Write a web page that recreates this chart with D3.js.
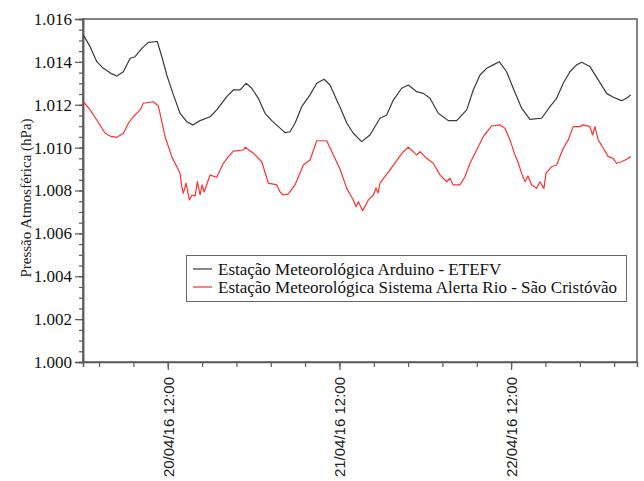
<!DOCTYPE html>
<html><head><meta charset="utf-8">
<script src="https://cdn.jsdelivr.net/npm/d3@7"></script>
<style>body{margin:0;background:#fff}svg{display:block}</style>
</head><body><svg id="c" width="644" height="481"></svg>
<script>
// hours since 20/04/16 00:00
const arduinoHours = [0.21,1.15,2.08,3.00,4.18,4.88,5.80,6.74,7.43,8.37,9.29,10.23,10.55,11.17,11.86,12.79,13.72,14.66,15.50,16.52,17.92,18.85,20.25,21.17,22.11,22.95,23.74,24.66,25.60,26.54,27.46,28.40,29.09,29.79,30.73,31.89,32.83,33.85,34.68,35.62,36.08,37.02,37.94,39.11,40.27,41.67,42.61,43.53,44.70,45.63,46.80,47.72,48.66,49.82,51.22,52.39,53.79,54.71,55.65,56.58,57.50,58.34,59.37,60.30,61.47,62.63,64.27,65.43,66.36,67.29,68.22,69.16,69.86,71.02,72.18,73.35,74.27,75.45,76.15,76.71];
const arduinoValues = [1.01525,1.01471,1.01401,1.01370,1.01344,1.01334,1.01354,1.01417,1.01424,1.01463,1.01491,1.01494,1.01494,1.01424,1.01339,1.01246,1.01160,1.01121,1.01106,1.01126,1.01144,1.01176,1.01238,1.01269,1.01269,1.01300,1.01277,1.01230,1.01160,1.01126,1.01098,1.01070,1.01074,1.01114,1.01191,1.01246,1.01300,1.01319,1.01292,1.01222,1.01190,1.01115,1.01067,1.01028,1.01059,1.01137,1.01152,1.01222,1.01277,1.01292,1.01261,1.01253,1.01230,1.01160,1.01126,1.01126,1.01176,1.01269,1.01339,1.01370,1.01386,1.01401,1.01354,1.01277,1.01184,1.01132,1.01137,1.01191,1.01230,1.01300,1.01354,1.01386,1.01398,1.01378,1.01316,1.01253,1.01235,1.01219,1.01230,1.01246];
const alertaHours = [0.21,1.15,2.08,3.24,3.94,4.88,5.80,6.50,7.20,8.13,8.59,9.99,10.69,11.63,12.56,13.26,13.72,13.96,14.18,14.56,15.02,15.40,15.82,16.14,16.52,16.80,17.08,17.92,18.85,19.77,20.43,21.17,22.57,22.81,23.97,25.14,26.06,27.24,27.70,28.16,28.86,29.79,30.95,31.89,32.83,34.22,35.15,36.08,37.02,37.94,38.32,38.64,39.25,40.04,40.74,41.11,41.39,41.67,43.07,44.23,44.93,45.63,46.80,47.26,48.20,49.12,50.06,50.99,51.45,51.91,52.85,53.55,54.25,55.18,56.11,57.28,58.44,59.14,59.84,60.54,60.96,61.47,61.94,62.36,62.87,63.57,64.03,64.59,64.87,65.66,66.36,67.29,67.99,68.68,69.62,70.08,71.02,71.39,71.71,72.18,72.88,73.58,74.27,74.75,75.45,76.15,76.71];
const alertaValues = [1.01214,1.01176,1.01129,1.01067,1.01054,1.01048,1.01067,1.01114,1.01144,1.01176,1.01207,1.01214,1.01194,1.01051,1.00958,1.00911,1.00880,1.00818,1.00787,1.00834,1.00756,1.00779,1.00774,1.00841,1.00779,1.00826,1.00793,1.00872,1.00862,1.00927,1.00956,1.00984,1.00989,1.01002,1.00974,1.00934,1.00834,1.00826,1.00793,1.00779,1.00784,1.00826,1.00919,1.00942,1.01032,1.01032,1.00966,1.00900,1.00810,1.00756,1.00724,1.00748,1.00706,1.00756,1.00779,1.00812,1.00788,1.00834,1.00896,1.00950,1.00981,1.01002,1.00966,1.00981,1.00950,1.00927,1.00872,1.00841,1.00857,1.00826,1.00826,1.00864,1.00927,1.00989,1.01051,1.01101,1.01106,1.01090,1.01036,1.00966,1.00933,1.00880,1.00841,1.00868,1.00826,1.00810,1.00841,1.00810,1.00880,1.00911,1.00919,1.00997,1.01036,1.01098,1.01098,1.01106,1.01098,1.01059,1.01098,1.01036,1.00997,1.00958,1.00950,1.00927,1.00934,1.00946,1.00958];
const yTicks = [1.000,1.002,1.004,1.006,1.008,1.010,1.012,1.014,1.016];
const xTickHours = [2.4,7.2,12,16.8,21.6,26.4,31.2,36,40.8,45.6,50.4,55.2,60,64.8,69.6,74.4];
const xLabelHours = [12,36,60];
const seriesNames = ["Estação Meteorológica Arduino - ETEFV","Estação Meteorológica Sistema Alerta Rio - São Cristóvão"];
const seriesColors = ["#3a3a3a","#ff3030"];
const yTitle = "Pressão Atmosférica (hPa)";

const base = new Date(2016,3,20,0,0);
const T = h => new Date(base.getTime() + h*3600000);
const L = 83, R = 637, TOP = 19, B = 362;
const svg = d3.select("#c");
const x = d3.scaleTime().domain([T(0.15), T(77.6)]).range([L, R]);
const y = d3.scaleLinear().domain([1.000, 1.016]).range([B, TOP]);

// frame
svg.append("rect").attr("x",L).attr("y",TOP).attr("width",R-L).attr("height",B-TOP)
  .attr("fill","none").attr("stroke","#5a5a5a").attr("stroke-width",1.5);

// y axis
const minorY = d3.range(0,33).map(i=>1+i*0.0005);
const gyMinor = svg.append("g").attr("transform",`translate(${L},0)`)
  .call(d3.axisLeft(y).tickValues(minorY).tickSize(4).tickFormat(""));
const gy = svg.append("g").attr("transform",`translate(${L},0)`)
  .call(d3.axisLeft(y).tickValues(yTicks).tickSize(8).tickPadding(3).tickFormat(d3.format(".3f")));
[gy,gyMinor].forEach(g=>{g.select(".domain").attr("stroke","#5a5a5a").attr("stroke-width",1.5);
  g.selectAll(".tick line").attr("stroke","#5a5a5a").attr("stroke-width",1.2);});
gy.selectAll(".tick text").attr("font-family","'Liberation Serif',serif").attr("font-size",17).attr("fill","#111");

// x axis
const gx = svg.append("g").attr("transform",`translate(0,${B})`)
  .call(d3.axisBottom(x).tickValues(xTickHours.map(T)).tickSize(5).tickFormat(""));
gx.select(".domain").attr("stroke","#5a5a5a").attr("stroke-width",1.5);
gx.selectAll(".tick line").attr("stroke","#5a5a5a").attr("stroke-width",1.2);
const fmt = d3.timeFormat("%d/%m/%y %H:%M");
const gxl = svg.append("g").attr("transform",`translate(0,${B})`)
  .call(d3.axisBottom(x).tickValues(xLabelHours.map(T)).tickSize(8).tickFormat(fmt));
gxl.select(".domain").remove();
gxl.selectAll(".tick line").attr("stroke","#5a5a5a").attr("stroke-width",1.2);
gxl.selectAll(".tick text").attr("font-family","'Liberation Sans',sans-serif").attr("font-size",15).attr("fill","#222")
  .attr("transform","rotate(-90)").attr("text-anchor","end").attr("dy","0.35em").attr("x",-15).attr("y",0);

// y title
svg.append("text").attr("transform",`translate(31,198) rotate(-90)`).attr("text-anchor","middle")
  .attr("font-family","'Liberation Serif',serif").attr("font-size",15).attr("fill","#222").text(yTitle);

// lines
const line = d3.line().x(d=>x(T(d[0]))).y(d=>y(d[1]));
const series = [d3.zip(arduinoHours, arduinoValues), d3.zip(alertaHours, alertaValues)];
series.forEach((s,i)=>svg.append("path").datum(s).attr("d",line).attr("fill","none")
  .attr("stroke",seriesColors[i]).attr("stroke-width",1.2).attr("stroke-linejoin","round"));

// legend
const lg = svg.append("g");
lg.append("rect").attr("x",186.5).attr("y",255.5).attr("width",440).attr("height",46)
  .attr("fill","#fff").attr("stroke","#666").attr("stroke-width",1);
seriesNames.forEach((n,i)=>{
  const cy = 269 + i*18;
  lg.append("line").attr("x1",193).attr("x2",212).attr("y1",cy).attr("y2",cy).attr("stroke",seriesColors[i]).attr("stroke-width",1.2);
  lg.append("text").attr("x",218).attr("y",cy+5.5).attr("font-family","'Liberation Serif',serif")
    .attr("font-size",17).attr("fill","#111").text(n);
});
</script></body></html>
